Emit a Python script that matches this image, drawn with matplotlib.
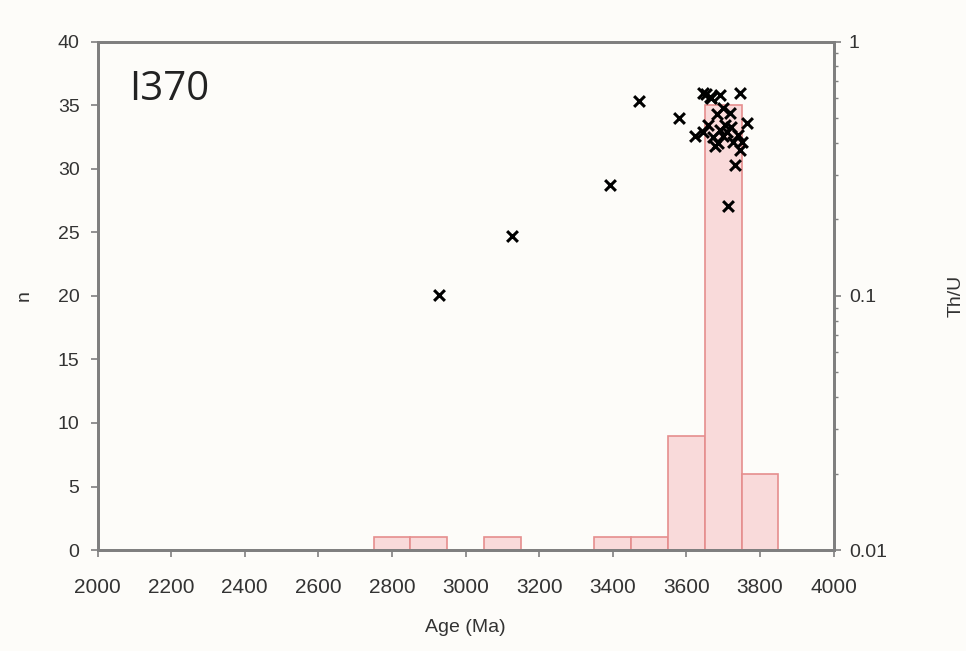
import matplotlib
matplotlib.use('Agg')
import matplotlib.pyplot as plt
from matplotlib.ticker import FixedLocator, LogLocator, NullFormatter

# histogram of ages (bin left edge, count), bin width 100 Ma
bin_left = [2750, 2850, 3050, 3350, 3450, 3550, 3650, 3750]
bin_count = [1, 1, 1, 1, 1, 9, 35, 6]
bin_width = 100

# Th/U vs age for individual analyses
age_ma = [2929, 3127, 3393, 3471, 3580, 3622, 3644, 3663, 3690, 3745,
          3717, 3682, 3764, 3644, 3671, 3698, 3726, 3750, 3745, 3731,
          3712, 3658, 3704, 3677, 3690, 3710, 3652, 3700, 3722, 3740,
          3685, 3668]
th_u = [0.101, 0.172, 0.274, 0.582, 0.501, 0.424, 0.63, 0.607, 0.618, 0.63,
        0.525, 0.52, 0.48, 0.44, 0.42, 0.427, 0.404, 0.404, 0.376, 0.328,
        0.226, 0.47, 0.47, 0.39, 0.45, 0.44, 0.62, 0.55, 0.46, 0.43,
        0.40, 0.60]

sample = 'I370'

plt.rcParams['font.family'] = ['Liberation Sans', 'DejaVu Sans']
spine_col = '#7f7f7f'
text_col = '#333333'
bg = '#fdfcf9'

fig = plt.figure(figsize=(9.66, 6.51), dpi=100, facecolor=bg)
ax = fig.add_axes([0.101, 0.155, 0.762, 0.781])
ax.set_facecolor(bg)

ax.bar(bin_left, bin_count, width=bin_width, align='edge',
       color='#f9dada', edgecolor='#e58e8e', linewidth=1.2, zorder=2)

ax.set_xlim(2000, 4000)
ax.set_ylim(0, 40)
ax.xaxis.set_major_locator(FixedLocator(range(2000, 4001, 200)))
ax.yaxis.set_major_locator(FixedLocator(range(0, 41, 5)))
ax.set_xlabel('Age (Ma)', fontsize=14, color=text_col, labelpad=16)
ax.set_ylabel('n', fontsize=14, color=text_col, labelpad=18)
ax.tick_params(axis='both', labelsize=14, colors=text_col, direction='out',
               length=5, width=1.2, color=spine_col)
ax.tick_params(axis='x', labelsize=15, pad=15)
ax.tick_params(axis='y', pad=8)

ax2 = ax.twinx()
ax2.set_yscale('log')
ax2.set_ylim(0.01, 1)
ax2.yaxis.set_major_locator(FixedLocator([0.01, 0.1, 1]))
ax2.set_yticklabels(['0.01', '0.1', '1'])
ax2.yaxis.set_minor_locator(LogLocator(base=10, subs=range(2, 10)))
ax2.yaxis.set_minor_formatter(NullFormatter())
ax2.tick_params(axis='y', which='major', labelsize=14, colors=text_col,
                direction='out', length=5, width=1.2, color=spine_col, pad=6)
ax2.tick_params(axis='y', which='minor', direction='out', length=3,
                width=1.0, color=spine_col)
ax2.set_ylabel('Th/U', fontsize=14, color=text_col, labelpad=44)

ax2.scatter(age_ma, th_u, marker='x', s=60, color='black', linewidths=2.2,
            zorder=5)

for a in (ax, ax2):
    for sp in a.spines.values():
        sp.set_color(spine_col)
        sp.set_linewidth(2)

ax.text(0.043, 0.945, sample, transform=ax.transAxes, fontsize=29,
        family='Open Sans', color='#222222', va='top', ha='left')

fig.savefig('out.png', dpi=100, facecolor=bg)
